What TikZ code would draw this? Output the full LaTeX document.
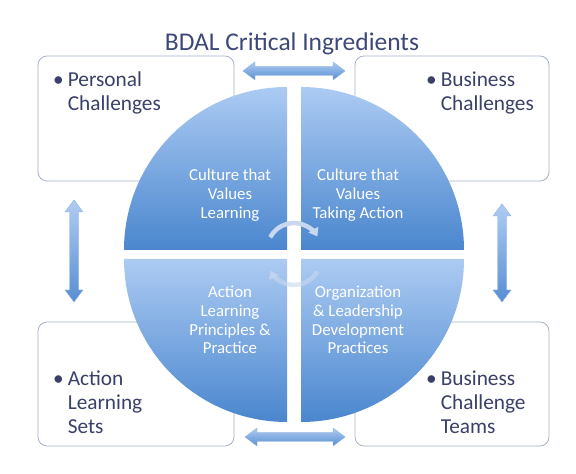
\documentclass[tikz,border=0pt]{standalone}
\usepackage{fontspec}
\setmainfont{Carlito}
\usetikzlibrary{arrows.meta,positioning}

\definecolor{titlecol}{RGB}{62,72,118}
\definecolor{itemcol}{RGB}{58,64,104}
\definecolor{boxline}{RGB}{165,178,200}
\definecolor{quadlight}{RGB}{172,203,243}
\definecolor{quaddark}{RGB}{74,134,206}
\definecolor{arrlight}{RGB}{175,204,242}
\definecolor{arrdark}{RGB}{88,142,210}
\definecolor{cyccol}{RGB}{200,216,238}

% horizontal double block arrow: start x, y, length
\newcommand\harrowpath[3]{(#1,#2) -- ++(12,9) -- ++(0,-4.5) -- ++(#3-24,0) -- ++(0,4.5)
  -- ++(12,-9) -- ++(-12,-9) -- ++(0,4.5) -- ++(-#3+24,0) -- ++(0,-4.5) -- cycle}
% vertical double block arrow: x, top y, length
\newcommand\varrowpath[3]{(#1,#2) -- ++(9,-12) -- ++(-4.5,0) -- ++(0,-#3+24) -- ++(4.5,0)
  -- ++(-9,-12) -- ++(-9,12) -- ++(4.5,0) -- ++(0,#3-24) -- ++(-4.5,0) -- cycle}
% bullet item for the corner boxes
\newcommand\bitem[1]{\begin{tabular}[t]{@{}l@{\hspace{4pt}}l@{}}\textbullet & #1\end{tabular}}

\begin{document}
\begin{tikzpicture}[x=1pt,y=1pt,
  box/.style={draw=boxline,line width=0.8pt,fill=white,rounded corners=9pt},
  quad/.style={top color=quadlight,bottom color=quaddark},
  blockarrow/.style={top color=arrlight,bottom color=arrdark,draw=arrdark!70,line width=0.4pt},
  quadtext/.style={text=white,align=center,font=\fontsize{16.8}{18.7}\selectfont},
  itemtext/.style={text=itemcol,anchor=base west,inner sep=0pt,font=\fontsize{21.3}{23.6}\selectfont},
  cycle/.style={draw=cyccol,line width=4.5pt,-{Triangle[length=8pt,width=11pt]}}]
\useasboundingbox (0,0) rectangle (576,474);

% corner boxes
\draw[box] (38,293) rectangle (234,418);
\draw[box] (355,293) rectangle (549,418);
\draw[box] (38,28) rectangle (234,152);
\draw[box] (355,28) rectangle (549,152);

% four quadrants of the circle
\shade[quad] (287,224) -- ++(-163,0) arc[start angle=180,end angle=90,radius=163] -- cycle;
\shade[quad] (301,224) -- ++(0,163) arc[start angle=90,end angle=0,radius=163] -- cycle;
\shade[quad] (287,215) -- ++(-163,0) arc[start angle=180,end angle=270,radius=163] -- cycle;
\shade[quad] (301,215) -- ++(0,-163) arc[start angle=270,end angle=360,radius=163] -- cycle;

% cycle arrows in the middle
\draw[cycle] (294,224) ++(152:27) arc[start angle=152,end angle=30,radius=27];
\draw[cycle,opacity=0.6] (294,216) ++(330:27) arc[start angle=330,end angle=208,radius=27];

% block arrows between boxes
\shade[blockarrow] \harrowpath{243}{403}{102};
\shade[blockarrow] \harrowpath{245}{37}{100};
\shade[blockarrow] \varrowpath{74}{274}{102};
\shade[blockarrow] \varrowpath{502}{270}{98};

% texts
\node[text=titlecol,font=\fontsize{25.5}{29}\selectfont] (title) at (292,430) {BDAL Critical Ingredients};

\node[quadtext] (cvl) at (230,279) {Culture that\\Values\\Learning};
\node[quadtext] (cva) at (358,279) {Culture that\\Values\\Taking Action};
\node[quadtext] (alp) at (230,154) {Action\\Learning\\Principles \&\\Practice};
\node[quadtext] (old) at (358,154) {Organization\\\& Leadership\\Development\\Practices};

\node[itemtext] (pc) at (53,387) {\bitem{Personal\\ & Challenges}};
\node[itemtext] (bc) at (426,387) {\bitem{Business\\ & Challenges}};
\node[itemtext] (als) at (53,88) {\bitem{Action\\ & Learning\\ & Sets}};
\node[itemtext] (bct) at (426,88) {\bitem{Business\\ & Challenge\\ & Teams}};
\end{tikzpicture}
\end{document}
